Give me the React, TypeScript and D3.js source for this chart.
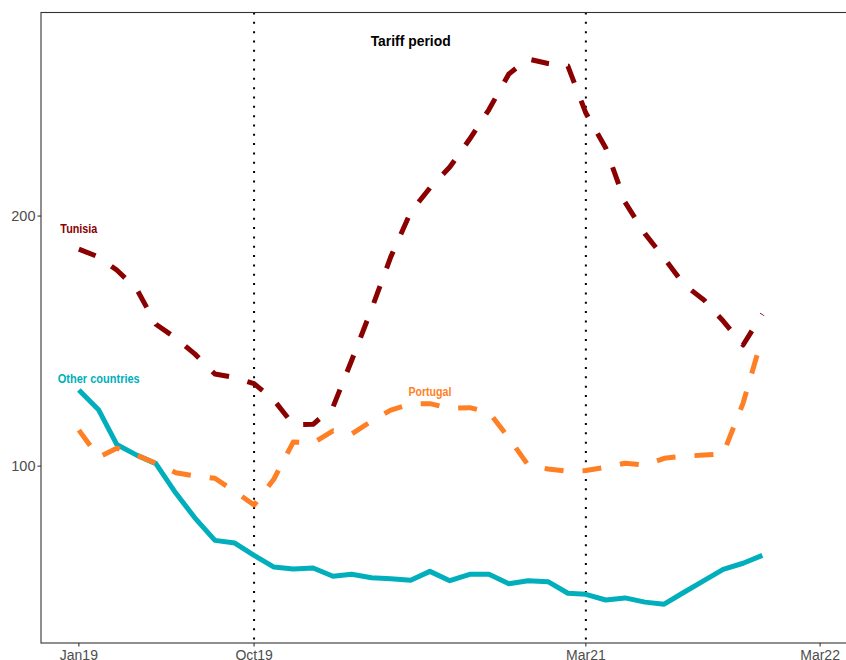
import React from "react";
import * as d3 from "d3";

// monthly observations, Jan 2019 .. Dec 2021
const months = d3.utcMonths(new Date(Date.UTC(2019, 0, 1)), new Date(Date.UTC(2022, 0, 1)));

const tunisia = [
  182.5, 178.5, 172.2, 163.4, 148.2, 142.6, 136.4, 129.1, 127.8, 125.7, 120.1, 112.2,
  112.3, 117.8, 134.0, 154.5, 178.6, 202.2, 216.2, 229.1, 247.6, 268.7, 296.5, 309.1,
  305.3, 303.1, 266.1, 241.5, 207.9, 190.5, 178.0, 165.4, 158.5, 149.5, 139.9, 152.4,
];

const portugal = [
  110.5, 102.5, 105.1, 103.1, 100.8, 98.2, 97.3, 96.7, 93.2, 89.8, 96.5, 106.9,
  106.6, 110.3, 109.3, 113.3, 116.8, 118.8, 118.9, 117.4, 117.6, 116.1, 108.1, 100.3,
  99.2, 98.6, 98.8, 99.7, 100.8, 100.3, 102.2, 102.8, 103.1, 103.5, 119.1, 143.0,
];

const otherCountries = [
  123.5, 116.8, 106.2, 103.1, 100.7, 92.8, 86.6, 81.4, 80.8, 78.1, 75.6, 75.2,
  75.4, 73.7, 74.1, 73.4, 73.2, 72.9, 74.7, 72.8, 74.1, 74.1, 72.2, 72.8,
  72.6, 70.3, 70.1, 69.0, 69.4, 68.6, 68.2, 70.5, 72.8, 75.1, 76.4, 78.1,
];

const yTicks = [100, 200];
const xTicks = [
  { date: new Date(Date.UTC(2019, 0, 1)), label: "Jan19" },
  { date: new Date(Date.UTC(2019, 9, 1)), label: "Oct19" },
  { date: new Date(Date.UTC(2021, 2, 1)), label: "Mar21" },
  { date: new Date(Date.UTC(2022, 2, 1)), label: "Mar22" },
];
const tariffBounds = [new Date(Date.UTC(2019, 9, 1)), new Date(Date.UTC(2021, 2, 1))];

const labels = [
  { text: "Tunisia", date: new Date(Date.UTC(2019, 0, 1)), value: 193.1, color: "#8B0000", len: 37, size: 12.5 },
  { text: "Other countries", date: new Date(Date.UTC(2019, 1, 1)), value: 127.4, color: "#00AFBB", len: 82, size: 12.5 },
  { text: "Portugal", date: new Date(Date.UTC(2020, 6, 1)), value: 123.1, color: "#FF7F24", len: 43, size: 12.5 },
  { text: "Tariff period", date: new Date(Date.UTC(2020, 5, 1)), value: 324.7, color: "#000000", len: 80, size: 15 },
];

const series = [
  { name: "Other countries", values: otherCountries, color: "#00AFBB", dash: null },
  { name: "Tunisia", values: tunisia, color: "#8B0000", dash: "18,19" },
  { name: "Portugal", values: portugal, color: "#FF7F24", dash: "19,19" },
];

export default function App() {
  const width = 846;
  const height = 660;
  const left = 41;
  const top = 12.5;
  const bottom = 643;
  const panelRight = 877;

  const x = d3
    .scaleUtc()
    .domain([new Date(Date.UTC(2018, 10, 3)), new Date(Date.UTC(2022, 3, 1))])
    .range([left, 840]);
  const y = d3.scaleLog().domain([61.25, 351.6]).range([bottom, top]);

  const font = "'Liberation Sans', Arial, sans-serif";

  return (
    <svg
      width={width}
      height={height}
      style={{ position: "absolute", left: 0, top: 0, background: "#fff" }}
      fontFamily={font}
    >
      <defs>
        <clipPath id="panel">
          <rect x={left} y={top} width={panelRight - left} height={bottom - top} />
        </clipPath>
      </defs>
      <rect x={0} y={0} width={width} height={height} fill="#fff" />

      <g clipPath="url(#panel)">
        {tariffBounds.map((d, i) => (
          <line
            key={i}
            x1={x(d)}
            x2={x(d)}
            y1={top}
            y2={bottom}
            stroke="#000"
            strokeWidth={2}
            strokeDasharray="2,7.33"
          />
        ))}
        {series.map((s) => {
          const line = d3
            .line<number>()
            .x((_, i) => x(months[i]))
            .y((v) => y(v));
          return (
            <path
              key={s.name}
              d={line(s.values) ?? ""}
              fill="none"
              stroke={s.color}
              strokeWidth={5}
              strokeLinejoin="round"
              strokeLinecap="butt"
              strokeDasharray={s.dash ?? undefined}
            />
          );
        })}
        {labels.map((l) => (
          <text
            key={l.text}
            x={x(l.date)}
            y={y(l.value)}
            dy="0.35em"
            textAnchor="middle"
            fontSize={l.size}
            fontWeight="bold"
            fill={l.color}
            textLength={l.len}
            lengthAdjust="spacingAndGlyphs"
          >
            {l.text}
          </text>
        ))}
      </g>

      {/* panel border */}
      <rect
        x={left}
        y={top}
        width={panelRight - left}
        height={bottom - top}
        fill="none"
        stroke="#333333"
        strokeWidth={1.1}
      />

      {/* y axis */}
      {yTicks.map((t) => (
        <g key={t} transform={`translate(${left},${y(t)})`}>
          <line x1={-3.5} x2={0} stroke="#333333" strokeWidth={1.1} />
          <text x={-5.5} dy="0.35em" textAnchor="end" fontSize={14.5} fill="#4D4D4D">
            {t}
          </text>
        </g>
      ))}

      {/* x axis */}
      {xTicks.map((t) => (
        <g key={t.label} transform={`translate(${x(t.date)},${bottom})`}>
          <line y1={0} y2={3.5} stroke="#333333" strokeWidth={1.1} />
          <text y={12.5} dy="0.35em" textAnchor="middle" fontSize={14} fill="#4D4D4D">
            {t.label}
          </text>
        </g>
      ))}
    </svg>
  );
}
